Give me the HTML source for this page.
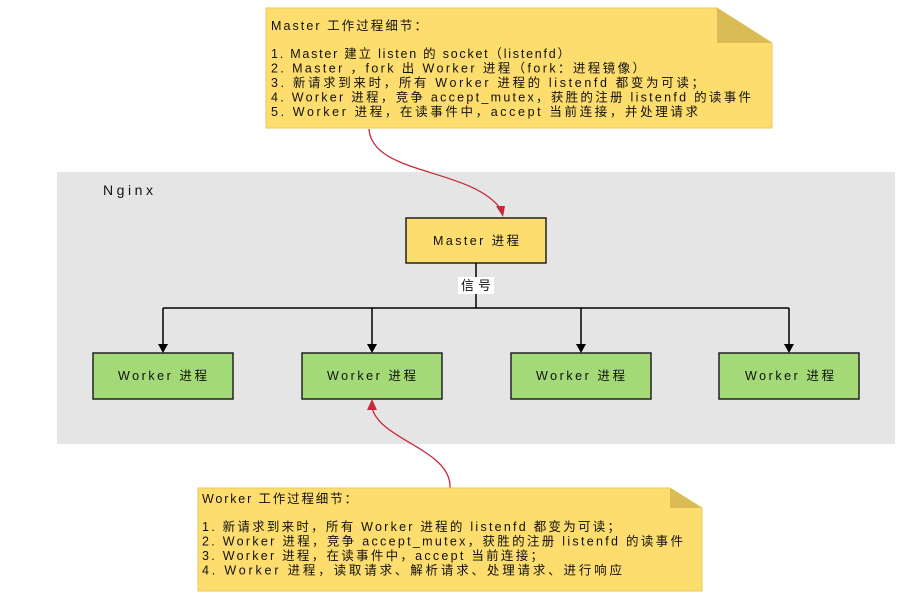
<!DOCTYPE html>
<html><head><meta charset="utf-8"><style>
html,body{margin:0;padding:0;background:#fff;}
svg{display:block;}
text{font-family:"Liberation Sans","Noto Sans CJK SC",sans-serif;fill:#111;}
</style></head><body>
<svg width="901" height="594" viewBox="0 0 901 594" xmlns="http://www.w3.org/2000/svg">
<rect x="57" y="172" width="838" height="272" fill="#e5e5e5"/>
<text x="103" y="195" font-size="14" textLength="50" lengthAdjust="spacing">Nginx</text>

<path d="M266,8 L717,8 L772,43 L772,128 L266,128 Z" fill="#fddd6d" stroke="#e8c95a" stroke-width="1"/>
<path d="M717,8 L772,43 L717,43 Z" fill="#d9bc55"/>
<g font-size="12.5" lengthAdjust="spacing">
<text x="271" y="30" textLength="156" lengthAdjust="spacing">Master 工作过程细节：</text>
<text x="271" y="58" textLength="299" lengthAdjust="spacing">1. Master 建立 listen 的 socket（listenfd）</text>
<text x="271" y="72.5" textLength="374" lengthAdjust="spacing">2. Master ，fork 出 Worker 进程（fork：进程镜像）</text>
<text x="271" y="87" textLength="433" lengthAdjust="spacing">3. 新请求到来时，所有 Worker 进程的 listenfd 都变为可读；</text>
<text x="271" y="101.5" textLength="480" lengthAdjust="spacing">4. Worker 进程，竞争 accept_mutex，获胜的注册 listenfd 的读事件</text>
<text x="271" y="116" textLength="427" lengthAdjust="spacing">5. Worker 进程，在读事件中，accept 当前连接，并处理请求</text>
</g>

<path d="M369,129 C372,175 470,168 500,208" fill="none" stroke="#c8283a" stroke-width="1.3"/>
<path d="M496,206 L505,206 L503,217 Z" fill="#c8283a"/>

<rect x="406" y="218" width="140" height="45" fill="#fddd6d" stroke="#222" stroke-width="1.5"/>
<text x="433" y="245" font-size="12.5" textLength="86" lengthAdjust="spacing">Master 进程</text>

<g stroke="#000" stroke-width="1.5" fill="none">
<path d="M476,263 L476,308"/>
<path d="M163,308 L789,308"/>
<path d="M163,308 L163,346 M372,308 L372,346 M581,308 L581,346 M789,308 L789,346"/>
</g>
<g fill="#000">
<path d="M158,344 L168,344 L163,353 Z"/><path d="M367,344 L377,344 L372,353 Z"/>
<path d="M576,344 L586,344 L581,353 Z"/><path d="M784,344 L794,344 L789,353 Z"/>
</g>
<rect x="458" y="277" width="36" height="17" fill="#fff"/>
<text x="461" y="290" font-size="13" textLength="30" lengthAdjust="spacing">信号</text>

<g stroke="#222" stroke-width="1.5" fill="#a3d977">
<rect x="93" y="353" width="140" height="46"/>
<rect x="302" y="353" width="140" height="46"/>
<rect x="511" y="353" width="140" height="46"/>
<rect x="719" y="353" width="140" height="46"/>
</g>
<g font-size="12.5">
<text x="118" y="380" textLength="89" lengthAdjust="spacing">Worker 进程</text>
<text x="327" y="380" textLength="89" lengthAdjust="spacing">Worker 进程</text>
<text x="536" y="380" textLength="89" lengthAdjust="spacing">Worker 进程</text>
<text x="745" y="380" textLength="89" lengthAdjust="spacing">Worker 进程</text>
</g>

<path d="M450,488 C452,450 380,440 372,408" fill="none" stroke="#c8283a" stroke-width="1.3"/>
<path d="M367,410 L377,410 L372,399 Z" fill="#c8283a"/>

<path d="M198,488 L670,488 L702,508 L702,591 L198,591 Z" fill="#fddd6d" stroke="#e8c95a" stroke-width="1"/>
<path d="M670,488 L702,508 L670,508 Z" fill="#d9bc55"/>
<g font-size="12.5">
<text x="202" y="503" textLength="155" lengthAdjust="spacing">Worker 工作过程细节：</text>
<text x="202" y="531" textLength="418" lengthAdjust="spacing">1. 新请求到来时，所有 Worker 进程的 listenfd 都变为可读；</text>
<text x="202" y="545.5" textLength="481" lengthAdjust="spacing">2. Worker 进程，竞争 accept_mutex，获胜的注册 listenfd 的读事件</text>
<text x="202" y="560" textLength="341" lengthAdjust="spacing">3. Worker 进程，在读事件中，accept 当前连接；</text>
<text x="202" y="574.5" textLength="420" lengthAdjust="spacing">4. Worker 进程，读取请求、解析请求、处理请求、进行响应</text>
</g>
</svg>
</body></html>
